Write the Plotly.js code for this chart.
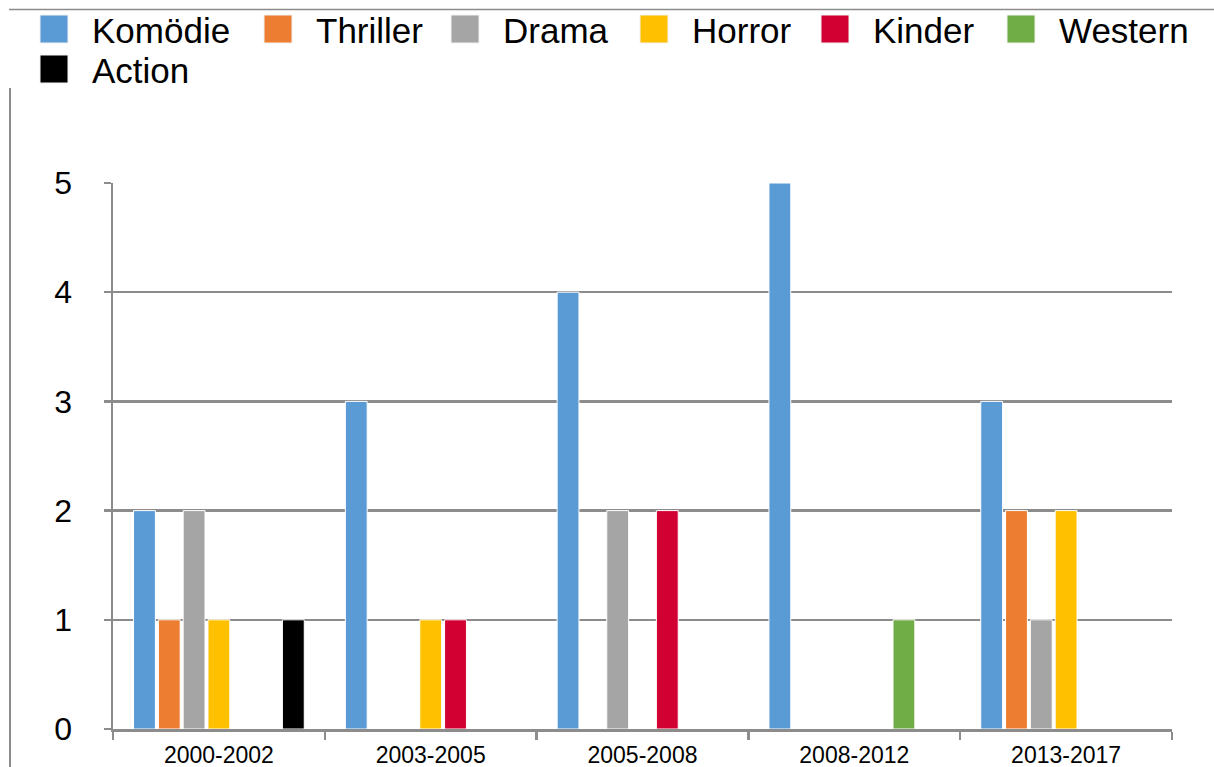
<!DOCTYPE html>
<html>
<head>
<meta charset="utf-8">
<script src="https://cdn.plot.ly/plotly-3.0.1.min.js"></script>
<style>html,body{margin:0;padding:0;background:#fff;}#chart{width:1214px;height:767px;}</style>
</head>
<body>
<div id="chart"></div>
<script>
const categories = ["2000-2002", "2003-2005", "2005-2008", "2008-2012", "2013-2017"];
const seriesNames = ["Komödie", "Thriller", "Drama", "Horror", "Kinder", "Western", "Action"];
const komoedie = [2, 3, 4, 5, 3];
const thriller = [1, null, null, null, 2];
const drama = [2, null, 2, null, 1];
const horror = [1, 1, null, null, 2];
const kinder = [null, 1, 2, null, null];
const western = [null, null, null, 1, null];
const action = [1, null, null, null, null];
const seriesValues = [komoedie, thriller, drama, horror, kinder, western, action];
const colors = ["#5B9BD5", "#ED7D31", "#A5A5A5", "#FFC000", "#D20032", "#70AD47", "#000000"];
const yTicks = [0, 1, 2, 3, 4, 5];

// layout geometry (pixels)
const W = 1214, H = 767;
const L = 113, R = 1172, T = 183, B = 729;
const pw = R - L, ph = B - T;
const px = x => (x - L) / pw;
const py = y => (B - y) / ph;
const legendX = [40, 264, 451, 640, 821, 1007, 40];
const legendRow = [0, 0, 0, 0, 0, 0, 1];
const rowTop = [15, 55];
const sw = 28;
const fontFam = '"Liberation Sans", Arial, Helvetica, sans-serif';

const traces = seriesNames.map((name, i) => ({
  type: 'bar',
  name: name,
  x: categories,
  y: seriesValues[i],
  marker: {color: colors[i], line: {color: '#ffffff', width: 1}},
  showlegend: false,
  hoverinfo: 'x+y+name'
}));

const shapes = [];
const annotations = [];
seriesNames.forEach((name, i) => {
  const x0 = legendX[i], y0 = rowTop[legendRow[i]];
  shapes.push({type: 'rect', xref: 'paper', yref: 'paper',
    x0: px(x0), x1: px(x0 + sw), y0: py(y0), y1: py(y0 + sw),
    fillcolor: colors[i], line: {color: '#f2f2f2', width: 1}});
  annotations.push({xref: 'paper', yref: 'paper', x: px(x0 + 50), y: py(y0 + sw / 2 + 1),
    xanchor: 'left', yanchor: 'middle', showarrow: false, text: name,
    font: {family: fontFam, size: 35, color: '#000'}});
});
// frame lines
shapes.push({type: 'line', xref: 'paper', yref: 'paper', x0: px(9), x1: px(W), y0: py(9.5), y1: py(9.5),
  line: {color: '#8c8c8c', width: 1.5}});
shapes.push({type: 'line', xref: 'paper', yref: 'paper', x0: px(10), x1: px(10), y0: py(88), y1: py(H),
  line: {color: '#8c8c8c', width: 2}});

const layout = {
  width: W, height: H,
  margin: {l: L, r: W - R, t: T, b: H - B, pad: 0},
  paper_bgcolor: '#ffffff', plot_bgcolor: '#ffffff',
  barmode: 'group', bargap: 0.18, bargroupgap: 0.12,
  showlegend: false,
  font: {family: fontFam, color: '#000'},
  xaxis: {
    type: 'category', tickson: 'boundaries', ticks: 'outside', ticklen: 8, tickwidth: 2.5, tickcolor: '#8c8c8c',
    showline: true, linecolor: '#8c8c8c', linewidth: 2.5, showgrid: false,
    tickfont: {family: fontFam, size: 23, color: '#000'}, ticklabelstandoff: 4
  },
  yaxis: {
    range: [0, 5], tickvals: yTicks, ticktext: yTicks.map(String),
    ticks: 'outside', ticklen: 7, tickwidth: 2.5, tickcolor: '#8c8c8c',
    showline: true, linecolor: '#8c8c8c', linewidth: 2.5,
    showgrid: true, gridcolor: '#8c8c8c', gridwidth: 2.5, zeroline: false,
    tickfont: {family: fontFam, size: 32, color: '#000'}, ticklabelstandoff: 25
  },
  shapes: shapes,
  annotations: annotations
};

Plotly.newPlot('chart', traces, layout, {displayModeBar: false, staticPlot: true});
</script>
</body>
</html>
